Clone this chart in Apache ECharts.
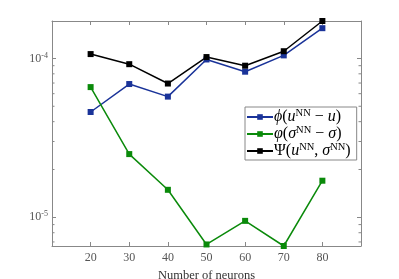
<!DOCTYPE html>
<html><head><meta charset="utf-8">
<script src="https://cdn.jsdelivr.net/npm/echarts@6/dist/echarts.min.js"></script>
<style>html,body{margin:0;padding:0;background:#fff}#c{width:399px;height:279px}</style>
</head><body><div id="c"></div>
<script>
const neurons = [20, 30, 40, 50, 60, 70, 80];
const phiErr = [4.6e-5, 6.9e-5, 5.75e-5, 9.85e-5, 8.25e-5, 1.045e-4, 1.55e-4];
const varphiErr = [6.6e-5, 2.5e-5, 1.49e-5, 6.75e-6, 9.5e-6, 6.6e-6, 1.7e-5];
const psiErr = [1.065e-4, 9.2e-5, 6.95e-5, 1.02e-4, 9.0e-5, 1.11e-4, 1.72e-4];
const seriesNames = ['phi', 'varphi', 'psi'];
const xTickLabels = ['20', '30', '40', '50', '60', '70', '80'];

const X_MIN = 10, X_MAX = 90, Y_MIN = 6.6e-6, Y_MAX = 1.72e-4;
const FONT = 'Liberation Serif';
const AX = '#888';
const LBL = '#555';

const minorVals = [];
for (let e = -6; e <= -4; e++) for (let k = 2; k <= 9; k++) {
  const v = k * Math.pow(10, e);
  if (v > Y_MIN && v < Y_MAX) minorVals.push(v);
}

const legendText = {
  phi: '{it|ϕ}{n|(}{it|u}{sup|NN}{n| − }{it|u}{n|)}',
  varphi: '{it|φ}{n|(}{it|σ}{sup|NN}{n| − }{it|σ}{n|)}',
  psi: '{n|Ψ(}{it|u}{sup|NN}{n|, }{it|σ}{sup|NN}{n|)}'
};

function mk(name, vals, color) {
  return {
    name: name, type: 'line', clip: false,
    data: neurons.map((x, i) => [x, vals[i]]),
    symbol: 'rect', symbolSize: 6,
    lineStyle: { color: color, width: 1.5 },
    itemStyle: { color: color },
    emphasis: { disabled: true }
  };
}

const chart = echarts.init(document.getElementById('c'), null, { renderer: 'canvas' });
chart.setOption({
  animation: false,
  backgroundColor: '#fff',
  textStyle: { fontFamily: FONT },
  grid: { left: 52, right: 38, top: 21, bottom: 33, containLabel: false, outerBoundsMode: 'none' },
  legend: {
    data: seriesNames, orient: 'vertical', left: 245, top: 107,
    itemGap: 0, itemWidth: 26, itemHeight: 7,
    padding: [1, 6, 1, 1], borderColor: AX, borderWidth: 1, backgroundColor: '#fff',
    formatter: n => legendText[n],
    textStyle: {
      fontFamily: FONT, color: '#000', padding: [0, 0, 0, -4],
      rich: {
        n: { fontFamily: FONT, fontSize: 16, color: '#000', lineHeight: 18 },
        it: { fontFamily: FONT, fontSize: 16, fontStyle: 'italic', color: '#000', lineHeight: 18 },
        sup: { fontFamily: FONT, fontSize: 10.5, color: '#000', verticalAlign: 'top', lineHeight: 12 }
      }
    }
  },
  xAxis: [{
    type: 'value', min: X_MIN, max: X_MAX, interval: 10,
    name: 'Number of neurons', nameLocation: 'middle', nameGap: 17,
    nameTextStyle: { fontFamily: FONT, fontSize: 12.5, color: '#333' },
    axisLine: { lineStyle: { color: AX } },
    axisTick: { inside: true, length: 4, lineStyle: { color: AX } },
    axisLabel: { fontFamily: FONT, fontSize: 12, color: LBL, margin: 6,
      formatter: v => xTickLabels.indexOf(String(v)) >= 0 ? String(v) : '' },
    splitLine: { show: false }
  }, {
    type: 'value', min: X_MIN, max: X_MAX, interval: 10, position: 'top',
    axisLine: { lineStyle: { color: AX } },
    axisTick: { inside: true, length: 4, lineStyle: { color: AX } },
    axisLabel: { show: false }, splitLine: { show: false }
  }],
  yAxis: [{
    type: 'log', logBase: 10, min: Y_MIN, max: Y_MAX,
    axisLine: { show: true, lineStyle: { color: AX } },
    axisTick: { show: true, inside: true, length: 4, lineStyle: { color: AX } },
    axisLabel: { fontFamily: FONT, color: LBL, margin: 4,
      formatter: v => {
        const l = Math.log10(v), r = Math.round(l);
        return Math.abs(l - r) < 1e-6 ? '{b|10}{s|' + r + '}' : '';
      },
      rich: {
        b: { fontFamily: FONT, fontSize: 12, color: LBL, lineHeight: 14 },
        s: { fontFamily: FONT, fontSize: 8, color: LBL, verticalAlign: 'top', lineHeight: 8 }
      }
    },
    splitLine: { show: false }
  }, {
    type: 'log', logBase: 10, min: Y_MIN, max: Y_MAX, position: 'right',
    axisLine: { show: true, lineStyle: { color: AX } },
    axisTick: { show: true, inside: true, length: 4, lineStyle: { color: AX } },
    axisLabel: { show: false }, splitLine: { show: false }
  }],
  series: [
    {
      type: 'custom', silent: true, clip: false, z: 1,
      data: minorVals.map(v => [X_MIN, v]),
      renderItem: (params, api) => {
        const v = api.value(1);
        const pl = api.coord([X_MIN, v]);
        const pr = api.coord([X_MAX, v]);
        return { type: 'group', children: [
          { type: 'line', shape: { x1: pl[0], y1: pl[1], x2: pl[0] + 2.5, y2: pl[1] }, style: { stroke: AX, lineWidth: 1 } },
          { type: 'line', shape: { x1: pr[0], y1: pr[1], x2: pr[0] - 2.5, y2: pr[1] }, style: { stroke: AX, lineWidth: 1 } }
        ] };
      }
    },
    mk('phi', phiErr, '#1a3399'),
    mk('varphi', varphiErr, '#0a8a0a'),
    mk('psi', psiErr, '#000000')
  ]
});
</script></body></html>
